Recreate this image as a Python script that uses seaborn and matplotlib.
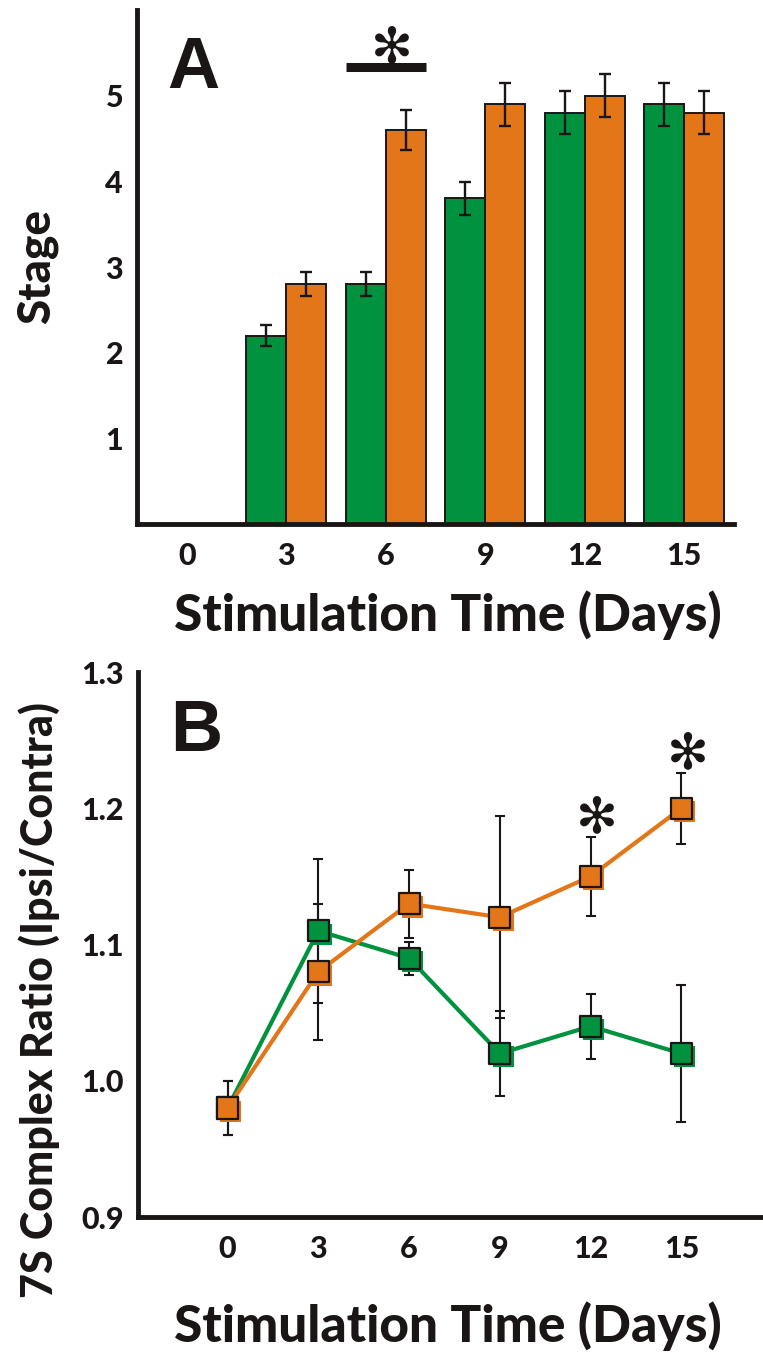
import matplotlib
matplotlib.use("Agg")
import matplotlib.pyplot as plt
import matplotlib.patheffects as pe
import numpy as np
import pandas as pd
import seaborn as sns

# ---- data ----
days = [0, 3, 6, 9, 12, 15]
groups = ["green", "orange"]
GREEN = "#00923F"
ORANGE = "#E4761A"
INK = "#1b1616"

# panel A: stage (bars), no bars at day 0
stage_green = [np.nan, 2.2, 2.8, 3.8, 4.8, 4.9]
stage_green_err = [np.nan, 0.12, 0.14, 0.19, 0.25, 0.25]
stage_orange = [np.nan, 2.8, 4.6, 4.9, 5.0, 4.8]
stage_orange_err = [np.nan, 0.14, 0.23, 0.25, 0.25, 0.25]
stage_ticks = [1, 2, 3, 4, 5, 6]
stage_ticklabels = ["1", "2", "3", "4", "5", ""]
sig_day_a = 6
sig_y_a = 5.33

# panel B: 7S complex ratio (lines)
ratio_green = [0.98, 1.11, 1.09, 1.02, 1.04, 1.02]
ratio_green_err = [0.02, 0.053, 0.012, 0.031, 0.024, 0.05]
ratio_orange = [0.98, 1.08, 1.13, 1.12, 1.15, 1.20]
ratio_orange_err = [0.02, 0.05, 0.025, 0.074, 0.029, 0.026]
ratio_ticks = [0.9, 1.0, 1.1, 1.2, 1.3]
star_days_b = [12, 15]
star_y_b = [1.193, 1.24]

sns.set_style("white")
plt.rcParams["font.family"] = ["Lato", "DejaVu Sans"]
plt.rcParams["text.color"] = INK
plt.rcParams["axes.labelcolor"] = INK
plt.rcParams["xtick.color"] = INK
plt.rcParams["ytick.color"] = INK

fig = plt.figure(figsize=(7.63, 13.53), dpi=100)
axA = fig.add_axes([0.1796, 0.6127, 0.7824, 0.3799])
axB = fig.add_axes([0.1809, 0.1005, 0.8191, 0.4028])

TICK_FS = 22
XLABEL_FS = 37
WEIGHT = "black"
palette = {groups[0]: GREEN, groups[1]: ORANGE}
STAR = "\u273b"

# ---- panel A ----
day_labels = [str(d) for d in days]
dfA = pd.DataFrame({
    "day": day_labels * 2,
    "group": [groups[0]] * len(days) + [groups[1]] * len(days),
    "stage": stage_green + stage_orange,
})
sns.barplot(data=dfA, x="day", y="stage", hue="group", order=day_labels,
            hue_order=groups, palette=palette, errorbar=None, saturation=1,
            width=0.8, edgecolor=INK, linewidth=1.4, legend=False, ax=axA)

errs_a = {groups[0]: stage_green_err, groups[1]: stage_orange_err}
for cont, g in zip(axA.containers, groups):
    for p in cont.patches:
        h = p.get_height()
        if not np.isfinite(h) or h == 0:
            continue
        xc = p.get_x() + p.get_width() / 2
        e = errs_a[g][int(round(xc))]
        axA.errorbar(xc, h, yerr=e, fmt="none", ecolor=INK, elinewidth=1.7,
                     capsize=4, capthick=1.7, zorder=5)

i = days.index(sig_day_a)
axA.plot([i - 0.4, i + 0.4], [sig_y_a, sig_y_a], color=INK, lw=6.5,
         solid_capstyle="butt")
axA.text(i + 0.06, sig_y_a - 0.06, STAR, family="DejaVu Sans",
         fontsize=36, fontweight="bold", ha="center", va="bottom", color=INK)

axA.set_xlim(-0.5, len(days) - 0.5)
axA.set_ylim(0, 6)
axA.set_yticks(stage_ticks)
axA.set_yticklabels(stage_ticklabels)
axA.tick_params(axis="y", direction="in", length=9, width=3, labelsize=TICK_FS, pad=10)
axA.tick_params(axis="x", length=0, labelsize=TICK_FS, pad=13)
for lab in axA.get_xticklabels() + axA.get_yticklabels():
    lab.set_fontweight(WEIGHT)
axA.set_xlabel("Stimulation Time (Days)", fontsize=XLABEL_FS, fontweight=WEIGHT)
axA.set_ylabel("Stage", fontsize=33, fontweight=WEIGHT)
axA.xaxis.set_label_coords(0.521, -0.13)
axA.yaxis.set_label_coords(-0.132, 0.5)
axA.text(0.05, 0.848, "A", transform=axA.transAxes, family="Liberation Sans",
         fontsize=52, fontweight="bold", va="baseline", ha="left", color=INK)

# ---- panel B ----
dfB = pd.DataFrame({
    "day": days * 2,
    "group": [groups[0]] * len(days) + [groups[1]] * len(days),
    "ratio": ratio_green + ratio_orange,
    "err": ratio_green_err + ratio_orange_err,
})
sns.lineplot(data=dfB, x="day", y="ratio", hue="group", hue_order=groups,
             palette=palette, lw=3, legend=False, ax=axB, zorder=2)
for g in groups:
    sub = dfB[dfB["group"] == g]
    axB.errorbar(sub["day"], sub["ratio"], yerr=sub["err"], fmt="none",
                 ecolor=INK, elinewidth=1.5, capsize=3.5, capthick=1.5, zorder=3)
for g in groups:
    sub = dfB[dfB["group"] == g]
    sns.scatterplot(data=sub, x="day", y="ratio", color=palette[g], marker="s",
                    s=230, edgecolor=INK, linewidth=1.6, legend=False, ax=axB,
                    zorder=4,
                    path_effects=[pe.SimplePatchShadow(offset=(2.4, -2.4),
                                                       shadow_rgbFace=palette[g],
                                                       alpha=1),
                                  pe.Normal()])
for d, y in zip(star_days_b, star_y_b):
    axB.text(d + 0.2, y, STAR, family="DejaVu Sans", fontsize=36,
             fontweight="bold", ha="center", va="center", color=INK)

axB.set_xlim(-2.96, 17.7)
axB.set_ylim(0.9, 1.3)
axB.set_xticks(days)
axB.set_yticks(ratio_ticks)
axB.set_yticklabels([f"{v:.1f}" for v in ratio_ticks])
axB.tick_params(axis="both", direction="in", length=9, width=3, labelsize=TICK_FS)
axB.tick_params(axis="x", pad=13)
axB.tick_params(axis="y", pad=10)
for lab in axB.get_xticklabels() + axB.get_yticklabels():
    lab.set_fontweight(WEIGHT)
axB.set_xlabel("Stimulation Time (Days)", fontsize=XLABEL_FS, fontweight=WEIGHT)
axB.set_ylabel("7S Complex Ratio (Ipsi/Contra)", fontsize=31, fontweight=WEIGHT)
axB.xaxis.set_label_coords(0.496, -0.155)
axB.yaxis.set_label_coords(-0.125, 0.398)
axB.text(0.051, 0.855, "B", transform=axB.transAxes, family="Liberation Sans",
         fontsize=52, fontweight="bold", va="baseline", ha="left", color=INK)

for ax in (axA, axB):
    sns.despine(ax=ax)
    for s in ("left", "bottom"):
        ax.spines[s].set_linewidth(3.5)
        ax.spines[s].set_color(INK)

fig.savefig("out.png", dpi=100)
